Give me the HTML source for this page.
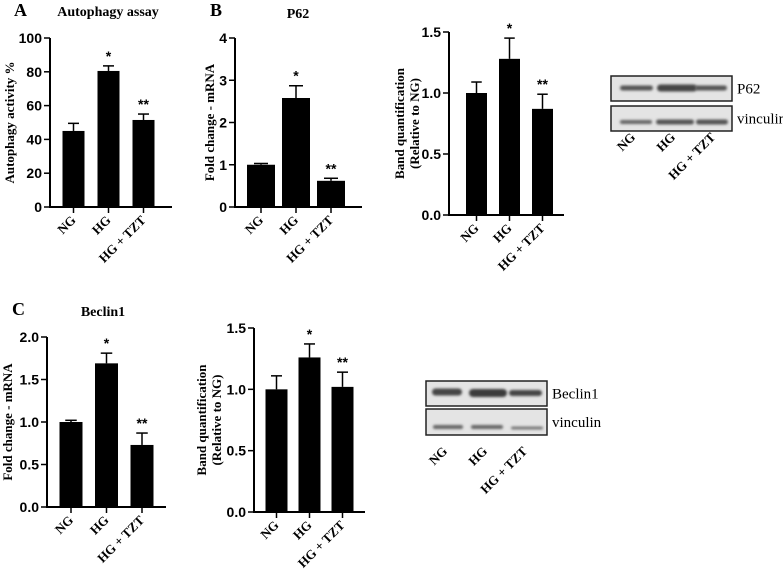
<!DOCTYPE html>
<html><head><meta charset="utf-8"><style>
body{margin:0;background:#fff}
svg{display:block}
.tk{font-family:"Liberation Sans",sans-serif;font-weight:bold;font-size:14px}
.ttl{font-family:"Liberation Serif",serif;font-weight:bold;font-size:13px}
.ttl2{font-family:"Liberation Serif",serif;font-weight:bold;font-size:14px}
.cat{font-family:"Liberation Serif",serif;font-weight:bold;font-size:13px}
.pl{font-family:"Liberation Serif",serif;font-weight:bold;font-size:18px}
.bl{font-family:"Liberation Serif",serif;font-size:15px}
</style></head><body>
<svg id="fig" width="783" height="571" viewBox="0 0 783 571" xmlns="http://www.w3.org/2000/svg">
<defs><filter id="bl" x="-20%" y="-100%" width="140%" height="300%"><feGaussianBlur stdDeviation="1.2"/></filter></defs>
<text class="pl" x="14" y="16">A</text>
<text class="ttl2" x="108" y="16" text-anchor="middle">Autophagy assay</text>
<text class="pl" x="210" y="16">B</text>
<text class="ttl2" x="298" y="18" text-anchor="middle">P62</text>
<text class="pl" x="12" y="315">C</text>
<text class="ttl2" x="103" y="316" text-anchor="middle">Beclin1</text>
</svg>
<script>
const categories=["NG","HG","HG + TZT"];
const valsA=[45,80.5,51.5], errA=[49.5,83.5,55], starsA=["","*","**"];
const ticksA=[0,20,40,60,80,100];
const valsB=[1.0,2.58,0.62], errB=[1.03,2.87,0.68], starsB=["","*","**"];
const ticksB=[0,1,2,3,4];
const valsB2=[1.0,1.28,0.87], errB2=[1.09,1.45,0.99], starsB2=["","*","**"];
const ticksB2=[0,0.5,1.0,1.5];
const valsC=[1.0,1.69,0.73], errC=[1.02,1.81,0.87], starsC=["","*","**"];
const ticksC=[0,0.5,1.0,1.5,2.0];
const valsC2=[1.0,1.26,1.02], errC2=[1.11,1.37,1.14], starsC2=["","*","**"];
const ticksC2=[0,0.5,1.0,1.5];

const NS="http://www.w3.org/2000/svg";
const svg=document.getElementById('fig');
function mk(tag,attrs,parent){const e=document.createElementNS(NS,tag);for(const k in attrs)e.setAttribute(k,attrs[k]);(parent||svg).appendChild(e);return e;}

function chart(id,cfg,vals,errs,stars,ticks,dec,ytitle){
  const g=mk('g',{});
  
  
  const max=ticks[ticks.length-1];
  const y=v=>cfg.y0-(v/max)*(cfg.y0-cfg.yTop);
  const x=i=>cfg.c0+i*cfg.step;
  const ax=mk('line',{x1:cfg.ax,y1:cfg.yTop,x2:cfg.ax,y2:cfg.y0+1,stroke:'#000','stroke-width':2},g);
  
  
  const xa=mk('line',{x1:cfg.ax-1,y1:cfg.y0,x2:cfg.xe,y2:cfg.y0,stroke:'#000','stroke-width':2},g);
  
  
  ticks.forEach(t=>{
    mk('line',{x1:cfg.ax-6,y1:y(t),x2:cfg.ax,y2:y(t),stroke:'#000','stroke-width':1.5},g);
    const tl=mk('text',{x:cfg.ax-8,y:y(t)+5,'text-anchor':'end',class:'tk'},g);
    tl.textContent=t.toFixed(dec);
    
    
  });
  vals.forEach((v,i)=>{
    const cx=x(i);
    mk('line',{x1:cx,y1:y(errs[i]),x2:cx,y2:y(v),stroke:'#000','stroke-width':1.5},g);
    mk('line',{x1:cx-cfg.w/4,y1:y(errs[i]),x2:cx+cfg.w/4,y2:y(errs[i]),stroke:'#000','stroke-width':1.5},g);
    const b=mk('rect',{x:cx-cfg.w/2,y:y(v),width:cfg.w,height:cfg.y0-y(v),fill:'#000'},g);
    
    
    mk('line',{x1:cx,y1:cfg.y0,x2:cx,y2:cfg.y0+6,stroke:'#000','stroke-width':1.5},g);
    if(stars[i]){const s=mk('text',{x:cx,y:y(errs[i])-5,'text-anchor':'middle',class:'tk','font-size':'13'},g);s.textContent=stars[i];
      
      }
    const c=mk('text',{x:cx+3,y:cfg.y0+14,'text-anchor':'end',class:'cat',transform:`rotate(-45 ${cx+3} ${cfg.y0+14})`},g);
    c.textContent=categories[i];
    
    
  });
  const yt=mk('text',{x:0,y:0,'text-anchor':'middle',class:'ttl',transform:`translate(${cfg.tx},${(cfg.yTop+cfg.y0)/2}) rotate(-90)`},g);
  ytitle.forEach((line,k)=>{const ts=mk('tspan',{x:0,dy:k?15:0},yt);ts.textContent=line;});
  
  
}
chart('chart-autophagy',{ax:50,xe:172,yTop:38,y0:207,c0:73.5,step:35,w:22,tx:14},valsA,errA,starsA,ticksA,0,['Autophagy activity %']);
chart('chart-p62-mrna',{ax:235,xe:362,yTop:38,y0:207,c0:261,step:35,w:28,tx:214},valsB,errB,starsB,ticksB,0,['Fold change - mRNA']);
chart('chart-p62-band',{ax:449,xe:564,yTop:32,y0:215,c0:476.5,step:33,w:21,tx:404},valsB2,errB2,starsB2,ticksB2,1,['Band quantification','(Relative to NG)']);
chart('chart-beclin1-mrna',{ax:47,xe:166,yTop:337,y0:507,c0:71,step:35.5,w:23,tx:12},valsC,errC,starsC,ticksC,1,['Fold change - mRNA']);
chart('chart-beclin1-band',{ax:254,xe:365,yTop:328,y0:512,c0:276.5,step:33,w:22,tx:206},valsC2,errC2,starsC2,ticksC2,1,['Band quantification','(Relative to NG)']);

function blot(id,x0,x1,y1a,y1b,y2a,y2b,bands1,bands2,lab1,lab2,laneX,laneY){
  const g=mk('g',{});
  
  
  [[y1a,y1b,bands1],[y2a,y2b,bands2]].forEach(([a,b,bands])=>{
    mk('rect',{x:x0,y:a,width:x1-x0,height:b-a,fill:'#e4e4e4',stroke:'#222','stroke-width':1.5},g);
    bands.forEach(bd=>mk('rect',{x:bd[0],y:bd[1]-bd[3]/2,width:bd[2],height:bd[3],rx:bd[3]/2,fill:bd[4],filter:'url(#bl)'},g));
  });
  const l1=mk('text',{x:x1+5,y:(y1a+y1b)/2+5,class:'bl'},g);l1.textContent=lab1;
  
  
  const l2=mk('text',{x:x1+5,y:(y2a+y2b)/2+5,class:'bl'},g);l2.textContent=lab2;
  
  
  laneX.forEach((lx,i)=>{
    const c=mk('text',{x:lx,y:laneY,'text-anchor':'end',class:'cat',transform:`rotate(-45 ${lx} ${laneY})`},g);
    c.textContent=categories[i];
    
    
  });
}
blot('blot-p62',611,732,76,101,106,131,
 [[620,88,33,5,'#555'],[657,88,40,7,'#444'],[695,88,32,5,'#555']],
 [[620,122,32,4,'#666'],[656,122,38,5,'#555'],[696,122,32,5,'#555']],
 'P62','vinculin',[636,676,716],138);
blot('blot-beclin1',426,547,381,406,409,435,
 [[432,392,30,7,'#444'],[469,393,38,8,'#3a3a3a'],[509,393,33,6,'#444']],
 [[433,427,30,4,'#666'],[471,427,32,4,'#666'],[511,428,32,3,'#777']],
 'Beclin1','vinculin',[448,488,528],452);
</script>
</body></html>
